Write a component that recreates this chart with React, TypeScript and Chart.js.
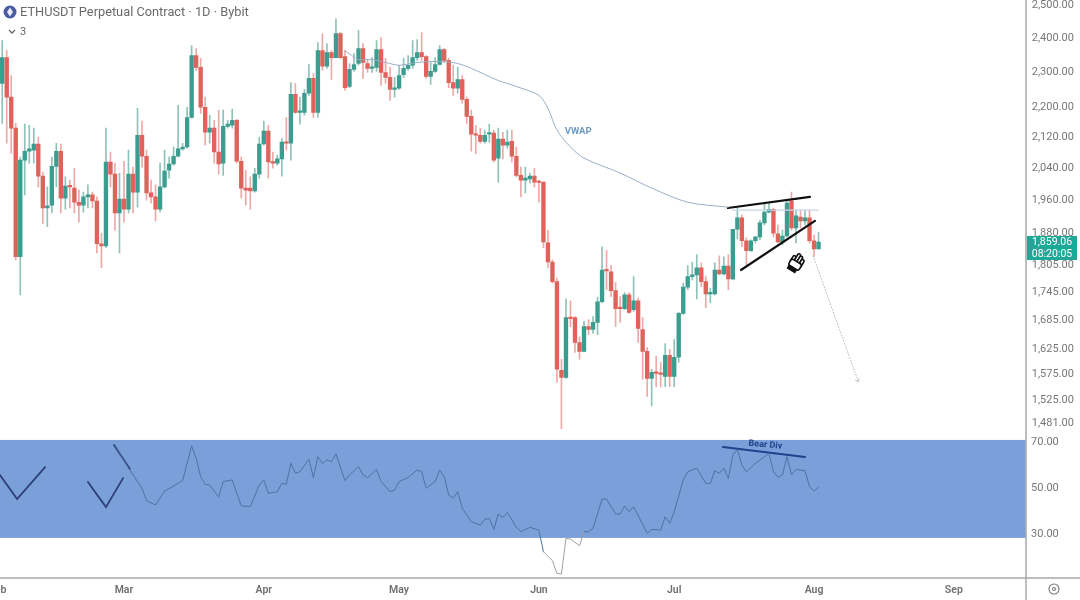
import React, { useEffect, useRef } from "react";
import { Chart, registerables } from "chart.js";

Chart.register(...registerables);

const monthNames = ["Feb", "Mar", "Apr", "May", "Jun", "Jul", "Aug", "Sep"];
const monthDays = [28, 31, 30, 31, 30, 31, 31, 16];

const firstCandleSlot = 1;

const opens = [
  2268, 2342, 2229, 2144, 1825, 2060, 2083, 2086, 2102, 2019, 1940, 1947, 2044, 2083, 1964, 1994, 1989, 1954, 1947, 1967,
  1972, 1957, 1855, 1850, 2055, 2024, 1928, 1962, 1937, 2024, 1979, 2125, 2070, 1977, 1967, 1937, 1992, 2034, 2050, 2070,
  2089, 2094, 2173, 2348, 2314, 2201, 2133, 2144, 2081, 2052, 2149, 2152, 2165, 2057, 1989, 1989, 1982, 2024, 2102, 2136,
  2055, 2052, 2063, 2107, 2104, 2237, 2187, 2187, 2240, 2282, 2187, 2363, 2317, 2357, 2342, 2414, 2345, 2259, 2308, 2325,
  2369, 2325, 2311, 2314, 2366, 2299, 2285, 2251, 2254, 2293, 2311, 2320, 2342, 2357, 2345, 2288, 2302, 2322, 2366, 2334,
  2270, 2254, 2279, 2223, 2176, 2128, 2125, 2109, 2128, 2131, 2065, 2115, 2099, 2109, 2070, 2021, 2009, 2012, 2019, 2004,
  2004, 1857, 1813, 1769, 1583, 1569, 1691, 1691, 1639, 1621, 1672, 1666, 1681, 1725, 1795, 1791, 1749, 1712, 1710, 1740,
  1708, 1727, 1666, 1621, 1567, 1579, 1577, 1571, 1613, 1571, 1609, 1700, 1757, 1780, 1784, 1800, 1769, 1742, 1742, 1795,
  1786, 1804, 1775, 1889, 1916, 1862, 1839, 1862, 1871, 1904, 1930, 1937, 1878, 1859, 1873, 1957, 1892, 1918, 1909, 1916,
  1862, 1843,
];

const closes = [
  2342, 2229, 2144, 1825, 2060, 2083, 2089, 2102, 2019, 1940, 1945, 2044, 2083, 1964, 1994, 1992, 1954, 1947, 1967, 1972,
  1957, 1855, 1850, 2055, 2024, 1928, 1962, 1937, 2024, 1979, 2125, 2070, 1977, 1967, 1937, 1992, 2032, 2050, 2070, 2089,
  2094, 2173, 2348, 2314, 2201, 2133, 2144, 2081, 2050, 2149, 2155, 2165, 2057, 1989, 1984, 1982, 2024, 2102, 2136, 2055,
  2052, 2063, 2107, 2104, 2237, 2187, 2190, 2240, 2282, 2187, 2363, 2317, 2357, 2342, 2414, 2342, 2256, 2308, 2322, 2369,
  2328, 2311, 2314, 2366, 2299, 2285, 2251, 2254, 2290, 2311, 2320, 2342, 2357, 2345, 2288, 2302, 2322, 2366, 2334, 2270,
  2254, 2279, 2223, 2176, 2128, 2125, 2109, 2125, 2131, 2060, 2115, 2099, 2107, 2070, 2021, 2009, 2014, 2019, 2004, 2003,
  1859, 1813, 1769, 1585, 1569, 1691, 1689, 1639, 1621, 1672, 1666, 1681, 1725, 1795, 1793, 1749, 1710, 1710, 1740, 1702,
  1727, 1668, 1621, 1567, 1579, 1577, 1575, 1613, 1571, 1609, 1700, 1757, 1780, 1784, 1800, 1769, 1742, 1744, 1795, 1786,
  1804, 1775, 1889, 1916, 1862, 1839, 1862, 1871, 1904, 1930, 1937, 1880, 1859, 1873, 1952, 1892, 1921, 1909, 1916, 1862,
  1843, 1859,
];

const highs = [
  2393, 2363, 2290, 2157, 2068, 2155, 2152, 2144, 2120, 2029, 1992, 2068, 2104, 2102, 2017, 2009, 2039, 1984, 1979, 1997,
  1979, 1967, 1880, 2144, 2081, 2052, 2027, 2057, 2086, 2042, 2198, 2163, 2086, 2009, 1997, 2052, 2086, 2068, 2094, 2206,
  2104, 2201, 2378, 2369, 2340, 2229, 2179, 2165, 2193, 2193, 2165, 2196, 2168, 2068, 2034, 2017, 2039, 2120, 2163, 2152,
  2081, 2073, 2117, 2173, 2270, 2268, 2229, 2251, 2322, 2296, 2387, 2414, 2384, 2363, 2459, 2417, 2363, 2325, 2354, 2423,
  2384, 2334, 2342, 2393, 2402, 2340, 2314, 2285, 2320, 2340, 2348, 2393, 2396, 2417, 2348, 2328, 2342, 2378, 2369, 2340,
  2320, 2314, 2290, 2229, 2193, 2152, 2144, 2139, 2155, 2139, 2144, 2133, 2139, 2139, 2094, 2042, 2042, 2027, 2039, 2009,
  2004, 1887, 1818, 1777, 1605, 1731, 1727, 1693, 1651, 1683, 1687, 1693, 1735, 1848, 1839, 1805, 1767, 1736, 1745, 1745,
  1780, 1733, 1691, 1629, 1585, 1611, 1599, 1637, 1625, 1645, 1702, 1766, 1805, 1812, 1830, 1811, 1780, 1755, 1811, 1827,
  1825, 1830, 1889, 1940, 1923, 1869, 1864, 1871, 1911, 1952, 1952, 1940, 1899, 1887, 1959, 1979, 1935, 1935, 1935, 1935,
  1875, 1882,
];

const lows = [
  2157, 2104, 2078, 1818, 1740, 1972, 2052, 2052, 1992, 1902, 1895, 1928, 1992, 1928, 1937, 1940, 1928, 1906, 1930, 1940,
  1940, 1834, 1800, 1846, 1992, 1887, 1834, 1906, 1928, 1928, 1942, 2042, 1959, 1952, 1909, 1930, 1989, 2014, 2047, 2068,
  2086, 2091, 2171, 2305, 2184, 2099, 2104, 2052, 2024, 2021, 2144, 2144, 2052, 1964, 1947, 1937, 1979, 2014, 2099, 2014,
  2039, 2047, 2019, 2086, 2060, 2184, 2155, 2179, 2234, 2173, 2173, 2305, 2311, 2279, 2342, 2340, 2248, 2256, 2302, 2320,
  2282, 2299, 2299, 2302, 2262, 2268, 2220, 2229, 2251, 2285, 2305, 2311, 2334, 2334, 2282, 2265, 2299, 2320, 2328, 2256,
  2234, 2240, 2212, 2157, 2083, 2076, 2104, 2104, 2107, 2055, 2004, 2063, 2091, 2055, 2017, 1967, 1977, 2002, 1992, 1954,
  1846, 1800, 1766, 1559, 1471, 1567, 1672, 1619, 1605, 1620, 1655, 1658, 1655, 1723, 1751, 1736, 1672, 1681, 1708, 1700,
  1704, 1639, 1565, 1532, 1514, 1551, 1550, 1551, 1551, 1551, 1599, 1698, 1751, 1773, 1731, 1758, 1712, 1723, 1740, 1784,
  1784, 1751, 1773, 1866, 1848, 1807, 1837, 1857, 1864, 1899, 1928, 1871, 1857, 1853, 1871, 1887, 1857, 1892, 1899, 1857,
  1825, 1843,
];

const priceTicks = [2500, 2400, 2300, 2200, 2120, 2040, 1960, 1880, 1805, 1745, 1685, 1625, 1575, 1525, 1481];
const rsiTicks = [30, 50, 70];
const priceAxisMax = 2517.6;
const priceAxisMin = 1220.2;
const rsiAxisMax = 262.2;
const rsiAxisMin = 10.87;
const rsiBandTop = 70.9;
const rsiBandBottom = 28.3;
const lastPrice = 1859.06;
const countdown = "08:20:05";

const vwapDays = [77, 80, 83, 86, 89, 93, 98, 102, 105, 111, 115, 120, 122, 124, 127, 130, 138, 145, 153, 162];
const vwapValues = [2363, 2337, 2337, 2328, 2320, 2328, 2331, 2325, 2311, 2276, 2259, 2234, 2198, 2139, 2094, 2065, 2027, 1989, 1954, 1942];

const rsiDays = [
  26, 29, 32, 33, 35, 37, 39, 41, 43, 44, 45, 46, 47, 49, 50, 52, 54, 56, 58, 59, 60, 62, 63, 64, 65, 66, 67, 69, 70, 71,
  72, 73, 74, 75, 77, 78, 80, 81, 82, 84, 85, 87, 88, 89, 91, 93, 94, 95, 97, 98, 99, 100, 101, 102, 103, 105, 106, 107,
  108, 109, 110, 111, 112, 113, 115, 116, 118, 120, 121, 123, 124, 125, 126, 127, 129, 130, 131, 132, 134, 135, 137, 138,
  139, 140, 141, 144, 145, 147, 148, 149, 150, 152, 153, 155, 157, 158, 159, 160, 161, 162, 163, 164, 165, 166, 168, 171,
  172, 173, 174, 175, 176, 177, 179, 180, 181, 182,
];
const rsiValues = [
  68.7, 58.6, 49.9, 44.5, 42.6, 48.7, 50.9, 53.2, 68.3, 62.9, 54.9, 51.6, 51.3, 46.2, 52.8, 53.5, 42.2, 41.9, 51.3, 53.5,
  47.7, 48.4, 52.0, 51.7, 60.7, 56.4, 57.1, 62.5, 54.5, 63.6, 60.7, 62.2, 61.4, 64.8, 53.2, 55.7, 59.3, 55.7, 54.5, 58.1,
  52.8, 48.4, 49.1, 52.8, 54.6, 57.8, 57.1, 49.9, 52.8, 57.8, 54.9, 47.0, 45.5, 48.4, 41.2, 35.4, 34.6, 33.9, 36.4, 36.8,
  32.0, 38.7, 37.2, 39.3, 32.9, 31.0, 32.9, 31.7, 22.3, 18.4, 12.9, 12.6, 28.1, 27.8, 24.9, 31.0, 31.0, 32.5, 45.2, 45.2,
  38.7, 38.7, 42.2, 39.7, 41.9, 30.3, 32.0, 31.7, 37.5, 34.6, 39.7, 53.5, 57.1, 58.6, 52.0, 52.0, 57.5, 56.4, 58.6, 54.2,
  64.3, 66.8, 60.0, 57.1, 60.7, 65.1, 57.1, 54.6, 55.7, 63.6, 55.7, 58.1, 57.5, 50.6, 48.7, 50.3,
];

const upperTrendDays = [161.9, 180.1];
const upperTrendPrices = [1940, 1967];
const lowerTrendDays = [164.8, 181.2];
const lowerTrendPrices = [1795, 1909];
const flatLevelDays = [163, 182];
const flatLevelPrices = [1935, 1935];
const targetDays = [180.8, 190.8];
const targetPrices = [1827, 1561];
const bearDivDays = [160.8, 179];
const bearDivValues = [67.8, 63.5];
const firstTickDays = [0.5, 4.3, 10.5];
const firstTickValues = [55.7, 45.2, 59.1];
const secondTickDays = [20, 24, 27.8];
const secondTickValues = [52.6, 41.7, 54.3];
const slashDays = [25.8, 29.3];
const slashValues = [68.7, 58.3];

const labels: string[] = monthNames.flatMap((m, i) =>
  Array.from({ length: monthDays[i] }, (_, d) => `${m} ${d + 1}`)
);

const pad = (arr: any[]) => [...Array(firstCandleSlot).fill(null), ...arr];
const pts = (xs: number[], ys: number[]) => xs.map((x, i) => ({ x, y: ys[i] }));

const upBody = "#3b9d8f";
const downBody = "#df625b";
const upWick = "#8fc2b9";
const downWick = "#ecaaa6";

const overlayPlugin = {
  id: "overlay",
  beforeDatasetsDraw(chart: any) {
    const { ctx, scales } = chart;
    const top = scales.rsi.getPixelForValue(rsiBandTop);
    const bottom = scales.rsi.getPixelForValue(rsiBandBottom);
    ctx.save();
    ctx.fillStyle = "#7b9fd9";
    ctx.fillRect(0, top, chart.chartArea.right + 2, bottom - top);
    ctx.restore();
  },
  afterDatasetsDraw(chart: any) {
    const { ctx, scales, chartArea } = chart;
    const axisX = chartArea.right + 2.25;
    ctx.save();
    ctx.strokeStyle = "#a8a8a8";
    ctx.lineWidth = 1.5;
    ctx.beginPath();
    ctx.moveTo(axisX, 0);
    ctx.lineTo(axisX, chart.height);
    ctx.moveTo(0, chartArea.bottom);
    ctx.lineTo(chart.width, chartArea.bottom);
    ctx.stroke();

    ctx.fillStyle = "#6d9cc4";
    ctx.font = "700 9.5px Roboto";
    ctx.textAlign = "center";
    ctx.textBaseline = "middle";
    ctx.fillText("VWAP", scales.xd.getPixelForValue(128.7), scales.y.getPixelForValue(2135));

    ctx.save();
    ctx.translate(scales.xd.getPixelForValue(170.2), scales.rsi.getPixelForValue(68.7));
    ctx.rotate(0.09);
    ctx.fillStyle = "#23418a";
    ctx.font = "700 9px Roboto";
    ctx.fillText("Bear Div", 0, 0);
    ctx.restore();

    // arrow tip of the projected move
    const tx = scales.xd.getPixelForValue(targetDays[1]);
    const ty = scales.y.getPixelForValue(targetPrices[1]);
    ctx.strokeStyle = "#bdbdbd";
    ctx.lineWidth = 1;
    ctx.beginPath();
    ctx.moveTo(tx - 3, ty - 1);
    ctx.lineTo(tx, ty);
    ctx.lineTo(tx + 1, ty - 3);
    ctx.stroke();

    // hand cursor
    ctx.save();
    ctx.translate(scales.xd.getPixelForValue(176.9), scales.y.getPixelForValue(1813));
    ctx.rotate(0.55);
    ctx.lineWidth = 1.6;
    ctx.strokeStyle = "#111";
    ctx.fillStyle = "#fff";
    for (const [fx, fy, fh] of [[-5, -5, 8], [-2, -9, 12], [1, -8, 11], [4, -6, 9]]) {
      ctx.beginPath();
      ctx.roundRect(fx, fy, 3, fh, 1.4);
      ctx.fill();
      ctx.stroke();
    }
    ctx.beginPath();
    ctx.roundRect(-5, -1, 12, 7, 2);
    ctx.fill();
    ctx.stroke();
    ctx.fillStyle = "#111";
    ctx.fillRect(-4.5, 6, 10, 4);
    ctx.restore();

    // last price tag
    const tagY = scales.y.getPixelForValue(lastPrice) - 6;
    ctx.fillStyle = "#1ea897";
    ctx.fillRect(axisX + 1, tagY, 50, 24);
    ctx.fillStyle = "#ffffff";
    ctx.font = "400 10.5px Roboto";
    ctx.textAlign = "center";
    ctx.fillText(lastPrice.toLocaleString("en-US", { minimumFractionDigits: 2 }), axisX + 26, tagY + 6.5);
    ctx.fillText(countdown, axisX + 26, tagY + 18);

    // chart settings button
    ctx.strokeStyle = "#777";
    ctx.lineWidth = 1.1;
    ctx.beginPath();
    ctx.arc(axisX + 28, chart.height - 11, 5, 0, Math.PI * 2);
    ctx.moveTo(axisX + 29.5, chart.height - 11);
    ctx.arc(axisX + 28, chart.height - 11, 1.5, 0, Math.PI * 2);
    ctx.stroke();
    ctx.restore();
  },
};

export default function App() {
  const ref = useRef<HTMLCanvasElement | null>(null);
  useEffect(() => {
    document.body.style.margin = "0";
    document.body.style.overflow = "hidden";
    const line = (data: any[], color: string, width: number, yAxisID: string, extra: any = {}) => ({
      type: "line" as const,
      data,
      borderColor: color,
      borderWidth: width,
      pointRadius: 0,
      xAxisID: "xd",
      yAxisID,
      order: 0,
      tension: 0,
      borderCapStyle: "round" as const,
      ...extra,
    });
    const isUp = (i: number) => closes[i] >= opens[i];
    const noVerticalPad = (s: any) => {
      s.paddingTop = 0;
      s.paddingBottom = 0;
    };
    const chart = new Chart(ref.current as HTMLCanvasElement, {
      data: {
        labels,
        datasets: [
          {
            type: "bar",
            data: pad(highs.map((h, i) => [lows[i], h])),
            backgroundColor: pad(highs.map((_, i) => (isUp(i) ? upWick : downWick))),
            barThickness: 1,
            grouped: false,
            xAxisID: "x",
            yAxisID: "y",
            order: 3,
          },
          {
            type: "bar",
            data: pad(opens.map((o, i) => [o, closes[i]])),
            backgroundColor: pad(opens.map((_, i) => (isUp(i) ? upBody : downBody))),
            barThickness: 3.7,
            minBarLength: 1.5,
            grouped: false,
            xAxisID: "x",
            yAxisID: "y",
            order: 2,
          },
          line(pts(vwapDays, vwapValues), "#98aec6", 1, "y", { tension: 0.3 }),
          line(pts(flatLevelDays, flatLevelPrices), "#c5d6ea", 1.2, "y"),
          line(pts(upperTrendDays, upperTrendPrices), "#111111", 2.2, "y"),
          line(pts(lowerTrendDays, lowerTrendPrices), "#111111", 2.2, "y"),
          line(pts(targetDays, targetPrices), "#bdbdbd", 1, "y", { borderDash: [1, 2] }),
          line(pts(rsiDays, rsiValues), "#4f71a8", 1, "rsi", {
            segment: {
              borderColor: (c: any) =>
                c.p0.parsed.y < rsiBandBottom && c.p1.parsed.y < rsiBandBottom + 4 ? "#a0a0a0" : undefined,
            },
          }),
          line(pts(bearDivDays, bearDivValues), "#23418a", 2, "rsi"),
          line(pts(firstTickDays, firstTickValues), "#2b3f78", 1.8, "rsi"),
          line(pts(secondTickDays, secondTickValues), "#2b3f78", 1.8, "rsi"),
          line(pts(slashDays, slashValues), "#2b3f78", 1.8, "rsi"),
        ] as any,
      },
      options: {
        animation: false,
        responsive: false,
        devicePixelRatio: 1,
        events: [],
        layout: { padding: { left: 0.45, top: 0, right: 0, bottom: 0 } },
        plugins: { legend: { display: false }, tooltip: { enabled: false } },
        scales: {
          x: {
            type: "category",
            position: "bottom",
            grid: { display: false, drawTicks: false },
            border: { display: false },
            afterFit: (s: any) => {
              s.height = 22;
              s.paddingLeft = 0;
              s.paddingRight = 0;
            },
            ticks: {
              autoSkip: false,
              maxRotation: 0,
              padding: 6,
              color: "#6f6f6f",
              font: { family: "Roboto", size: 10.5, weight: 600 },
              callback(this: any, v: any) {
                const l: string = this.getLabelForValue(v);
                return l.endsWith(" 1") ? l.slice(0, 3) : null;
              },
            },
          },
          xd: { type: "linear", display: false, min: -0.5, max: 227.5 },
          y: {
            type: "logarithmic",
            position: "right",
            weight: 1,
            min: priceAxisMin,
            max: priceAxisMax,
            grid: { display: false, drawTicks: false },
            border: { display: false },
            afterBuildTicks: (s: any) => {
              s.ticks = priceTicks.map((value) => ({ value }));
            },
            afterFit: (s: any) => {
              s.width = 55.25;
              noVerticalPad(s);
            },
            ticks: {
              autoSkip: false,
              padding: 7,
              color: "#777777",
              font: { family: "Roboto", size: 11 },
              callback: (v: any) => Number(v).toLocaleString("en-US", { minimumFractionDigits: 2 }),
            },
          },
          rsi: {
            type: "linear",
            position: "right",
            weight: 0,
            min: rsiAxisMin,
            max: rsiAxisMax,
            grid: { display: false, drawTicks: false },
            border: { display: false },
            afterBuildTicks: (s: any) => {
              s.ticks = rsiTicks.map((value) => ({ value }));
            },
            afterFit: (s: any) => {
              s.width = 1;
              noVerticalPad(s);
            },
            ticks: {
              autoSkip: false,
              mirror: true,
              padding: 35,
              color: "#777777",
              font: { family: "Roboto", size: 11 },
              callback: (v: any) => Number(v).toFixed(2),
            },
          },
        },
      } as any,
      plugins: [overlayPlugin],
    } as any);
    return () => chart.destroy();
  }, []);

  return (
    <div style={{ position: "relative", width: 1080, height: 600, overflow: "hidden", background: "#fff" }}>
      <canvas
        ref={ref}
        width={1085}
        height={600}
        style={{ position: "absolute", left: -5, top: 0, width: 1085, height: 600, filter: "blur(0.4px)" }}
      />
      <div
        style={{
          position: "absolute",
          left: 3,
          top: 4,
          display: "flex",
          alignItems: "center",
          gap: 3,
          fontFamily: "Roboto, sans-serif",
          fontSize: 12.8,
          color: "#6a6a6a",
          whiteSpace: "nowrap",
        }}
      >
        <svg width="14" height="14" viewBox="0 0 14 14">
          <circle cx="7" cy="7" r="6.5" fill="#4a5c9f" />
          <path d="M7 2.5 L10 7 L7 11.5 L4 7 Z" fill="#e8ecf6" />
        </svg>
        <span>ETHUSDT Perpetual Contract · 1D · Bybit</span>
      </div>
      <div
        style={{
          position: "absolute",
          left: 8,
          top: 25,
          display: "flex",
          alignItems: "center",
          gap: 4,
          fontFamily: "Roboto, sans-serif",
          fontSize: 11,
          color: "#666",
        }}
      >
        <svg width="8" height="6" viewBox="0 0 8 6">
          <path d="M1 1 L4 4 L7 1" fill="none" stroke="#666" strokeWidth="1.3" />
        </svg>
        <span>3</span>
      </div>
    </div>
  );
}
